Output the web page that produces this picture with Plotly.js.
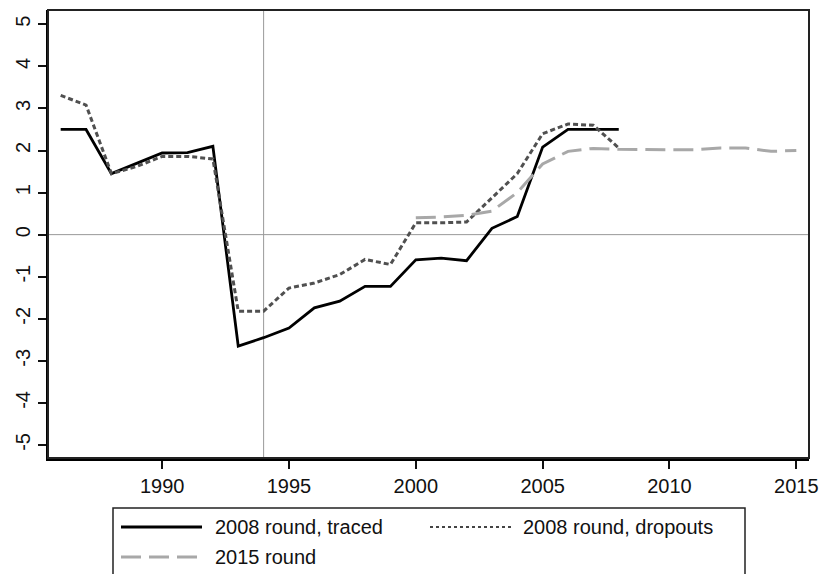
<!DOCTYPE html>
<html>
<head>
<meta charset="utf-8">
<script src="https://cdn.plot.ly/plotly-3.0.1.min.js"></script>
<style>html,body{margin:0;padding:0;background:#fff;}#chart{width:822px;height:574px;}</style>
</head>
<body>
<div id="chart"></div>
<script>
// ---- data ----
const yearsTraced = [1986,1987,1988,1989,1990,1991,1992,1993,1994,1995,1996,1997,1998,1999,2000,2001,2002,2003,2004,2005,2006,2007,2008];
const traced = [2.5,2.5,1.45,1.69,1.94,1.95,2.1,-2.65,-2.45,-2.22,-1.74,-1.58,-1.23,-1.23,-0.6,-0.56,-0.62,0.15,0.43,2.08,2.5,2.5,2.5];
const yearsDropouts = [1986,1987,1988,1989,1990,1991,1992,1993,1994,1995,1996,1997,1998,1999,2000,2001,2002,2003,2004,2005,2006,2007,2008];
const dropouts = [3.31,3.08,1.45,1.62,1.86,1.86,1.8,-1.82,-1.82,-1.27,-1.15,-0.95,-0.59,-0.71,0.28,0.28,0.3,0.88,1.45,2.4,2.63,2.6,2.06];
const years2015 = [2000,2001,2002,2003,2004,2005,2006,2007,2008,2009,2010,2011,2012,2013,2014,2015];
const round2015 = [0.4,0.42,0.46,0.56,1.0,1.68,1.98,2.05,2.03,2.02,2.02,2.02,2.06,2.06,1.98,2.0];
const seriesNames = ["2008 round, traced","2008 round, dropouts","2015 round"];
const xTicks = [1990,1995,2000,2005,2010,2015];
const yTicks = [-5,-4,-3,-2,-1,0,1,2,3,4,5];
const refYear = 1994;
const refValue = 0;

// ---- layout geometry (pixels) ----
const W = 822, H = 574, ML = 48, MR = 13, MT = 10, MB = 116;
const PW = W - ML - MR, PH = H - MT - MB;
const px = v => (v - ML) / PW;
const py = v => (H - MB - v) / PH;

const FONT = "Liberation Sans, Arial, sans-serif";
const styles = [
  {color:"#000000", width:2.8, dash:"solid"},
  {color:"#505050", width:3, dash:"5px,3px"},
  {color:"#a8a8a8", width:3, dash:"20px,8px"}
];

const data = [
  {x: yearsTraced, y: traced, name: seriesNames[0], mode:"lines", line: styles[0]},
  {x: yearsDropouts, y: dropouts, name: seriesNames[1], mode:"lines", line: styles[1]},
  {x: years2015, y: round2015, name: seriesNames[2], mode:"lines", line: styles[2]}
];

const shapes = [
  {type:"line", xref:"x", yref:"paper", x0:refYear, x1:refYear, y0:0, y1:1, line:{color:"#999", width:1}, layer:"below"},
  {type:"line", xref:"paper", yref:"y", x0:0, x1:1, y0:refValue, y1:refValue, line:{color:"#999", width:1}, layer:"below"},
  {type:"rect", xref:"paper", yref:"paper", x0:0, x1:1, y0:0, y1:1, line:{color:"#222", width:2}},
  // legend box
  {type:"rect", xref:"paper", yref:"paper", x0:px(113), x1:px(745), y0:py(508), y1:py(620), line:{color:"#222", width:1.5}},
  {type:"line", xref:"paper", yref:"paper", x0:px(121), x1:px(202), y0:py(527), y1:py(527), line: styles[0]},
  {type:"line", xref:"paper", yref:"paper", x0:px(430), x1:px(512), y0:py(527), y1:py(527), line:{color:"#444", width:2, dash:"3px,3px"}},
  {type:"line", xref:"paper", yref:"paper", x0:px(121), x1:px(202), y0:py(557), y1:py(557), line: styles[2]}
];

const annotations = [
  {xref:"paper", yref:"paper", x:px(213), y:py(527), text:seriesNames[0], xanchor:"left", yanchor:"middle", showarrow:false, font:{family:FONT, size:20, color:"#111"}},
  {xref:"paper", yref:"paper", x:px(521), y:py(527), text:seriesNames[1], xanchor:"left", yanchor:"middle", showarrow:false, font:{family:FONT, size:20, color:"#111"}},
  {xref:"paper", yref:"paper", x:px(213), y:py(557), text:seriesNames[2], xanchor:"left", yanchor:"middle", showarrow:false, font:{family:FONT, size:20, color:"#111"}}
];

const layout = {
  width: W, height: H,
  margin: {l:ML, r:MR, t:MT, b:MB, pad:0},
  paper_bgcolor:"#fff", plot_bgcolor:"#fff",
  showlegend:false,
  font:{family:FONT, size:20, color:"#111"},
  xaxis:{range:[1985.5,2015.5], tickvals:xTicks, ticktext:xTicks.map(String), ticks:"outside", ticklen:8, tickwidth:2, tickcolor:"#111",
         showline:true, linewidth:2.5, linecolor:"#000", showgrid:false, zeroline:false, tickfont:{family:FONT,size:20,color:"#111"}},
  yaxis:{range:[-5.31,5.34], tickvals:yTicks, ticktext:yTicks.map(String), tickangle:-90, ticks:"outside", ticklen:8, tickwidth:2, tickcolor:"#111",
         showline:true, linewidth:2.5, linecolor:"#000", showgrid:false, zeroline:false, tickfont:{family:FONT,size:20,color:"#111"}},
  shapes: shapes,
  annotations: annotations
};

Plotly.newPlot("chart", data, layout, {displayModeBar:false, staticPlot:true});
</script>
</body>
</html>
